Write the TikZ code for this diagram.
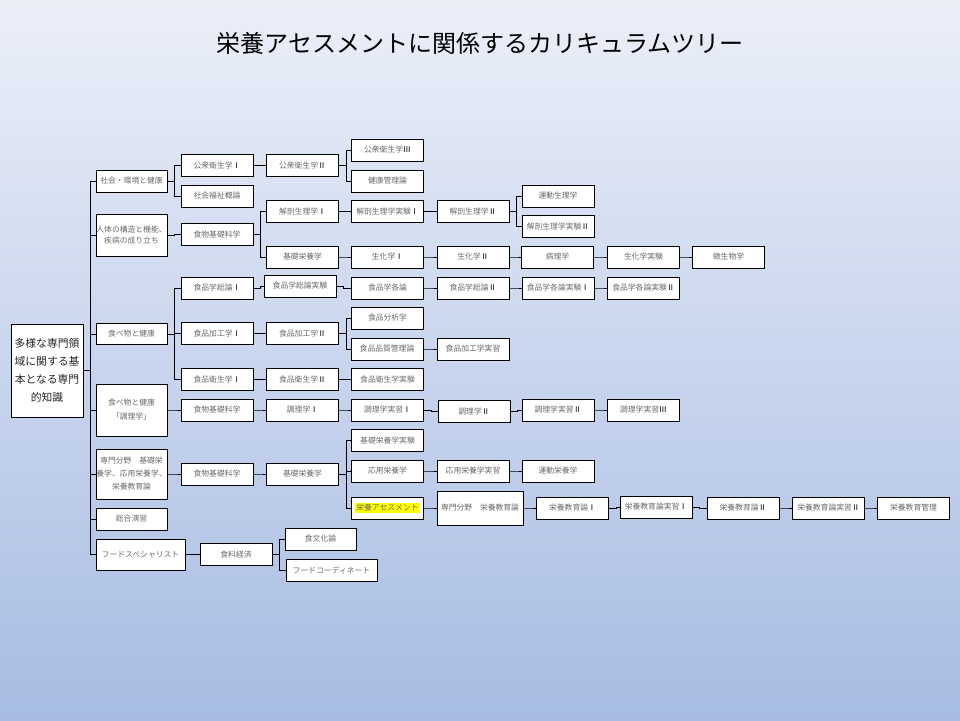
\documentclass[tikz,border=0pt]{standalone}
\usepackage{fontspec}
\newfontfamily\jp{Noto Sans CJK JP}
\definecolor{bgtop}{HTML}{EBEFF8}
\definecolor{bgbot}{HTML}{A7BCE3}
\definecolor{txtgray}{HTML}{6A6A6A}
\definecolor{hl}{HTML}{FFFF00}
\newcommand\elb[2]{\draw[conn] (#1.east) -- ++(7,0) |- (#2.west);}
\newcommand\nI{{\color{black}Ⅰ}}
\newcommand\nII{{\color{black}Ⅱ}}
\newcommand\nIII{{\color{black}Ⅲ}}
\begin{document}
\begin{tikzpicture}[x=1pt,y=-1pt,
  box/.style={draw=black, line width=0.9pt, fill=white, minimum width=72pt, minimum height=22pt,
    inner sep=0pt, font=\jp\fontsize{7.8}{11}\selectfont, text=txtgray, align=center},
  conn/.style={line width=0.9pt, draw=black},
  ttl/.style={font=\jp\fontsize{24}{28}\selectfont, text=black, inner sep=0pt}]
\shade[top color=bgtop, bottom color=bgbot] (0,0) rectangle (960,720);
\useasboundingbox (0,0) rectangle (960,720);

\node[ttl] (title) at (480,43) {栄養アセスメントに関係するカリキュラムツリー};

% root
\node[box, minimum width=72pt, minimum height=93pt, text=black!85,
  font=\jp\fontsize{10.8}{18}\selectfont] (root) at (47,370.5)
  {多様な専門領\\域に関する基\\本となる専門\\的知識};

% level 1
\node[box, minimum width=71pt] (s1) at (131.5,181) {社会・環境と健康};
\node[box, minimum width=71pt, minimum height=42pt, font=\jp\fontsize{7.8}{11}\selectfont] (s2) at (131.5,235) {人体の構造と機能、\\疾病の成り立ち};
\node[box, minimum width=71pt, minimum height=21pt] (s3) at (131.5,334) {食べ物と健康};
\node[box, minimum width=71pt, minimum height=52pt, font=\jp\fontsize{7.8}{14}\selectfont] (s4) at (131.5,410) {食べ物と健康\\「調理学」};
\node[box, minimum width=71pt, minimum height=50pt, font=\jp\fontsize{7.8}{13}\selectfont] (s5) at (131.5,474) {専門分野　基礎栄\\養学、応用栄養学、\\栄養教育論};
\node[box, minimum width=71pt] (s6) at (131.5,519) {総合演習};
\node[box, minimum width=89pt, minimum height=31pt] (s7) at (140.5,554.5) {フードスペシャリスト};

% level 2
\node[box] (a1) at (217,165.5) {公衆衛生学\nI};
\node[box] (a2) at (217,196) {社会福祉概論};
\node[box] (a3) at (217,234.5) {食物基礎科学};
\node[box] (a4) at (217,288) {食品学総論\nI};
\node[box] (a5) at (217,333.5) {食品加工学\nI};
\node[box] (a6) at (217,379.5) {食品衛生学\nI};
\node[box] (a7) at (217,410) {食物基礎科学};
\node[box] (a8) at (217,474) {食物基礎科学};
\node[box] (a9) at (236,554.5) {食料経済};

% level 3
\node[box] (b1) at (302.5,165.5) {公衆衛生学\nII};
\node[box] (b2) at (302.5,211.5) {解剖生理学\nI};
\node[box] (b3) at (302.5,257) {基礎栄養学};
\node[box] (b4) at (300,286) {食品学総論実験};
\node[box] (b5) at (302.5,333.5) {食品加工学\nII};
\node[box] (b6) at (302.5,379.5) {食品衛生学\nII};
\node[box] (b7) at (302.5,410) {調理学\nI};
\node[box] (b8) at (302.5,474) {基礎栄養学};
\node[box, minimum width=71pt] (b9) at (320.5,539) {食文化論};
\node[box, minimum width=91pt] (b10) at (331.5,570) {フードコーディネート};

% level 4
\node[box] (c1) at (387.5,150) {公衆衛生学\nIII};
\node[box] (c2) at (387.5,181) {健康管理論};
\node[box] (c3) at (387.5,211.5) {解剖生理学実験\nI};
\node[box] (c4) at (387.5,257) {生化学\nI};
\node[box] (c5) at (387.5,288) {食品学各論};
\node[box] (c6) at (387.5,318) {食品分析学};
\node[box] (c7) at (387,349) {食品品質管理論};
\node[box] (c8) at (387.5,379.5) {食品衛生学実験};
\node[box] (c9) at (387.5,410) {調理学実習\nI};
\node[box] (c10) at (387.5,440.5) {基礎栄養学実験};
\node[box] (c11) at (387.5,471) {応用栄養学};
\node[box] (c12) at (387.5,508) {\setlength{\fboxsep}{1.5pt}\colorbox{hl}{栄養アセスメント}};

% level 5
\node[box] (d1) at (473,211.5) {解剖生理学\nII};
\node[box] (d2) at (473,257) {生化学\nII};
\node[box] (d3) at (473,288) {食品学総論\nII};
\node[box] (d4) at (473,349) {食品加工学実習};
\node[box] (d5) at (474,411.5) {調理学\nII};
\node[box] (d6) at (473,471) {応用栄養学実習};
\node[box, minimum width=86pt, minimum height=34pt] (d7) at (480,508) {専門分野　栄養教育論};

% level 6
\node[box] (e1) at (558,196) {運動生理学};
\node[box] (e2) at (558,226.5) {解剖生理学実験\nII};
\node[box] (e3) at (557.5,257) {病理学};
\node[box] (e4) at (558,288) {食品学各論実験\nI};
\node[box] (e5) at (558,410) {調理学実習\nII};
\node[box] (e6) at (558,471) {運動栄養学};
\node[box] (e7) at (572.5,508) {栄養教育論\nI};

% level 7
\node[box] (f1) at (643.5,257) {生化学実験};
\node[box] (f2) at (643.5,288) {食品学各論実験\nII};
\node[box] (f3) at (643.5,410) {調理学実習\nIII};
\node[box] (f4) at (656,507) {栄養教育論実習\nI};

% level 8
\node[box] (g1) at (728.5,257) {微生物学};
\node[box] (g2) at (743,508) {栄養教育論\nII};
\node[box] (g3) at (828.5,508) {栄養教育論実習\nII};
\node[box] (g4) at (913.5,508) {栄養教育管理};

% connectors
\foreach \s in {s1,s2,s3,s4,s5,s6,s7} {\elb{root}{\s}}
\elb{s1}{a1} \elb{s1}{a2}
\elb{s2}{a3}
\elb{a1}{b1}
\elb{b1}{c1} \elb{b1}{c2}
\elb{a3}{b2} \elb{a3}{b3}
\elb{b2}{c3} \elb{c3}{d1}
\elb{d1}{e1} \elb{d1}{e2}
\elb{b3}{c4} \elb{c4}{d2} \elb{d2}{e3} \elb{e3}{f1} \elb{f1}{g1}
\elb{s3}{a4} \elb{s3}{a5} \elb{s3}{a6}
\elb{a4}{b4} \elb{b4}{c5} \elb{c5}{d3} \elb{d3}{e4} \elb{e4}{f2}
\elb{a5}{b5} \elb{b5}{c6} \elb{b5}{c7} \elb{c7}{d4}
\elb{a6}{b6} \elb{b6}{c8}
\elb{s4}{a7} \elb{a7}{b7} \elb{b7}{c9} \elb{c9}{d5} \elb{d5}{e5} \elb{e5}{f3}
\elb{s5}{a8} \elb{a8}{b8}
\elb{b8}{c10} \elb{b8}{c11} \elb{b8}{c12}
\elb{c11}{d6} \elb{d6}{e6}
\elb{c12}{d7} \elb{d7}{e7} \elb{e7}{f4} \elb{f4}{g2} \elb{g2}{g3} \elb{g3}{g4}
\elb{s7}{a9} \elb{a9}{b9} \elb{a9}{b10}
\end{tikzpicture}
\end{document}
